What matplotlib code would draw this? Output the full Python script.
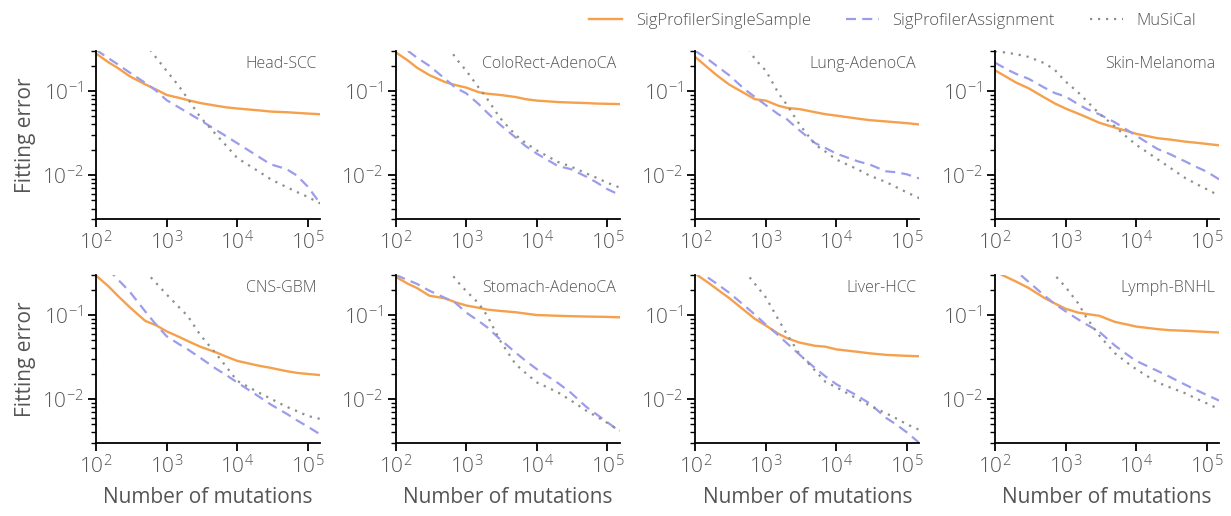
import numpy as np
import matplotlib
matplotlib.use("Agg")
import matplotlib.pyplot as plt
from matplotlib.ticker import LogLocator, NullLocator, NullFormatter

plt.rcParams['font.family'] = ['Open Sans', 'DejaVu Sans']
plt.rcParams['font.weight'] = 'light'
plt.rcParams['mathtext.fontset'] = 'custom'
plt.rcParams['mathtext.rm'] = 'Open Sans:light'
plt.rcParams['mathtext.it'] = 'Open Sans:light'

nan = np.nan

# number of mutations at which each method was evaluated
n_mut = [100, 150, 200, 300, 500, 700, 1000, 1500, 2000, 3000, 5000, 7000,
         10000, 20000, 30000, 50000, 70000, 100000, 150000]

cancer_types = ["Head-SCC", "ColoRect-AdenoCA", "Lung-AdenoCA", "Skin-Melanoma",
                "CNS-GBM", "Stomach-AdenoCA", "Liver-HCC", "Lymph-BNHL"]

# SigProfilerSingleSample fitting error
sp_single = [
    [0.28, 0.22, 0.19, 0.15, 0.12, 0.105, 0.09, 0.083, 0.078, 0.072, 0.067, 0.064, 0.062, 0.059, 0.057, 0.056, 0.055, 0.054, 0.053],
    [0.29, 0.23, 0.19, 0.155, 0.128, 0.118, 0.11, 0.097, 0.093, 0.09, 0.085, 0.08, 0.077, 0.074, 0.073, 0.072, 0.071, 0.0705, 0.070],
    [0.254, 0.19, 0.155, 0.12, 0.094, 0.08, 0.077, 0.067, 0.063, 0.061, 0.056, 0.053, 0.051, 0.047, 0.045, 0.0435, 0.0425, 0.0415, 0.040],
    [0.177, 0.145, 0.126, 0.108, 0.084, 0.0714, 0.062, 0.054, 0.0488, 0.042, 0.0368, 0.0339, 0.031, 0.0275, 0.0265, 0.025, 0.0243, 0.0235, 0.0226],
    [0.295, 0.22, 0.172, 0.124, 0.085, 0.076, 0.064, 0.055, 0.049, 0.042, 0.036, 0.032, 0.0285, 0.025, 0.0235, 0.0215, 0.0205, 0.0199, 0.0193],
    [0.285, 0.235, 0.21, 0.17, 0.158, 0.142, 0.13, 0.122, 0.116, 0.112, 0.108, 0.104, 0.1, 0.098, 0.097, 0.096, 0.0955, 0.095, 0.094],
    [0.31, 0.245, 0.205, 0.16, 0.113, 0.09, 0.075, 0.06, 0.053, 0.047, 0.043, 0.042, 0.039, 0.0365, 0.035, 0.0336, 0.0331, 0.0327, 0.0323],
    [0.33, 0.28, 0.25, 0.21, 0.16, 0.138, 0.119, 0.107, 0.103, 0.098, 0.083, 0.078, 0.073, 0.068, 0.066, 0.065, 0.064, 0.063, 0.062],
]

# SigProfilerAssignment fitting error
sp_assign = [
    [0.31, 0.246, 0.21, 0.166, 0.125, 0.102, 0.078, 0.0637, 0.0553, 0.045, 0.0345, 0.029, 0.024, 0.0166, 0.0134, 0.0118, 0.0099, 0.0073, 0.0046],
    [0.4, 0.3, 0.25, 0.2, 0.14, 0.11, 0.094, 0.07, 0.055, 0.04, 0.028, 0.022, 0.018, 0.0128, 0.0118, 0.0096, 0.0082, 0.0068, 0.0058],
    [0.30, 0.24, 0.2, 0.155, 0.105, 0.085, 0.068, 0.053, 0.046, 0.034, 0.024, 0.021, 0.018, 0.0146, 0.0133, 0.0111, 0.0108, 0.0102, 0.0091],
    [0.218, 0.18, 0.16, 0.14, 0.11, 0.095, 0.086, 0.070, 0.061, 0.053, 0.0425, 0.0356, 0.0295, 0.0205, 0.0178, 0.0145, 0.0126, 0.011, 0.0089],
    [0.48, 0.35, 0.27, 0.19, 0.11, 0.078, 0.056, 0.045, 0.039, 0.031, 0.023, 0.0193, 0.0158, 0.0108, 0.0086, 0.0067, 0.0056, 0.0047, 0.0038],
    [0.30, 0.26, 0.235, 0.195, 0.16, 0.14, 0.107, 0.085, 0.071, 0.0517, 0.0358, 0.0284, 0.0227, 0.0155, 0.012, 0.0081, 0.0066, 0.0053, 0.0041],
    [0.37, 0.28, 0.237, 0.185, 0.129, 0.101, 0.077, 0.0575, 0.046, 0.0338, 0.0233, 0.0186, 0.015, 0.0109, 0.0088, 0.006, 0.005, 0.004, 0.003],
    [0.5, 0.41, 0.333, 0.248, 0.171, 0.136, 0.111, 0.089, 0.077, 0.0635, 0.0434, 0.0352, 0.0285, 0.0217, 0.0184, 0.0148, 0.0129, 0.0112, 0.0096],
]

# MuSiCal fitting error (not run below a few hundred mutations in most types)
musical = [
    [nan, nan, nan, nan, 0.37, 0.254, 0.174, 0.114, 0.081, 0.049, 0.0305, 0.0224, 0.016, 0.0111, 0.0089, 0.0072, 0.0063, 0.0055, 0.0046],
    [nan, nan, nan, nan, 0.4, 0.25, 0.175, 0.11, 0.08, 0.048, 0.03, 0.024, 0.0197, 0.0143, 0.0127, 0.0105, 0.0093, 0.0081, 0.0071],
    [nan, nan, nan, nan, 0.38, 0.24, 0.175, 0.095, 0.068, 0.04, 0.023, 0.019, 0.0153, 0.0117, 0.0098, 0.0083, 0.0072, 0.0062, 0.0053],
    [0.30, 0.285, 0.275, 0.255, 0.215, 0.18, 0.13, 0.097, 0.076, 0.054, 0.038, 0.0295, 0.023, 0.0155, 0.0123, 0.0092, 0.0079, 0.0068, 0.0057],
    [nan, nan, nan, nan, 0.33, 0.244, 0.176, 0.124, 0.097, 0.058, 0.0347, 0.0243, 0.0165, 0.012, 0.0101, 0.0081, 0.0072, 0.0063, 0.0058],
    [nan, nan, nan, nan, 0.42, 0.267, 0.193, 0.138, 0.097, 0.05, 0.026, 0.0203, 0.0158, 0.012, 0.0097, 0.0073, 0.0062, 0.0052, 0.0042],
    [nan, nan, nan, nan, 0.333, 0.235, 0.162, 0.0887, 0.0586, 0.0343, 0.0218, 0.016, 0.0138, 0.01, 0.0083, 0.0068, 0.0059, 0.005, 0.0043],
    [nan, nan, nan, nan, 0.5, 0.30, 0.216, 0.139, 0.092, 0.0573, 0.0352, 0.0282, 0.0227, 0.0158, 0.0138, 0.0117, 0.0102, 0.0089, 0.0076],
]

method_names = ["SigProfilerSingleSample", "SigProfilerAssignment", "MuSiCal"]
colors = ["#F5A04C", "#9C9CEC", "#8E8E8E"]
styles = ["-", (0, (4.5, 2.8)), (0, (1, 2.6))]
text_col = "#555555"

fig, axes = plt.subplots(2, 4, figsize=(12.31, 5.16), dpi=100)
fig.subplots_adjust(left=0.078, right=0.9903, top=0.9012, bottom=0.1415,
                    wspace=0.337, hspace=0.333)

for i, ax in enumerate(axes.flat):
    series = [sp_single[i], sp_assign[i], musical[i]]
    for name, ys, c, ls in zip(method_names, series, colors, styles):
        ax.plot(n_mut, ys, color=c, linestyle=ls, lw=1.7 if ls == "-" else 1.6,
                label=name)
    ax.set_xscale("log")
    ax.set_yscale("log")
    ax.set_xlim(100, 150000)
    ax.set_ylim(0.003, 0.3)
    ax.xaxis.set_major_locator(LogLocator(base=10, numticks=10))
    ax.xaxis.set_minor_locator(NullLocator())
    ax.yaxis.set_major_locator(LogLocator(base=10, numticks=10))
    ax.yaxis.set_minor_locator(LogLocator(base=10, subs=np.arange(2, 10), numticks=20))
    ax.yaxis.set_minor_formatter(NullFormatter())
    for s in ["top", "right"]:
        ax.spines[s].set_visible(False)
    for s in ["left", "bottom"]:
        ax.spines[s].set_linewidth(1.3)
    ax.tick_params(which="major", length=6, width=1.3, labelsize=15,
                   labelcolor=text_col, pad=3)
    ax.tick_params(which="minor", length=3.5, width=1.0)
    ax.text(0.985, 0.97, cancer_types[i], transform=ax.transAxes, ha="right",
            va="top", fontsize=11.5, color=text_col)
    if i % 4 == 0:
        ax.set_ylabel("Fitting error", fontsize=15, color=text_col, labelpad=4)
    if i >= 4:
        ax.set_xlabel("Number of mutations", fontsize=15, color=text_col, labelpad=6)

handles, labels = axes[0, 0].get_legend_handles_labels()
fig.legend(handles, labels, loc="center right", bbox_to_anchor=(0.984, 0.96), ncol=3,
           frameon=False, fontsize=12, labelcolor=text_col, handlelength=2.0,
           columnspacing=2.1, handletextpad=0.8)

fig.savefig("out.png", dpi=100)
